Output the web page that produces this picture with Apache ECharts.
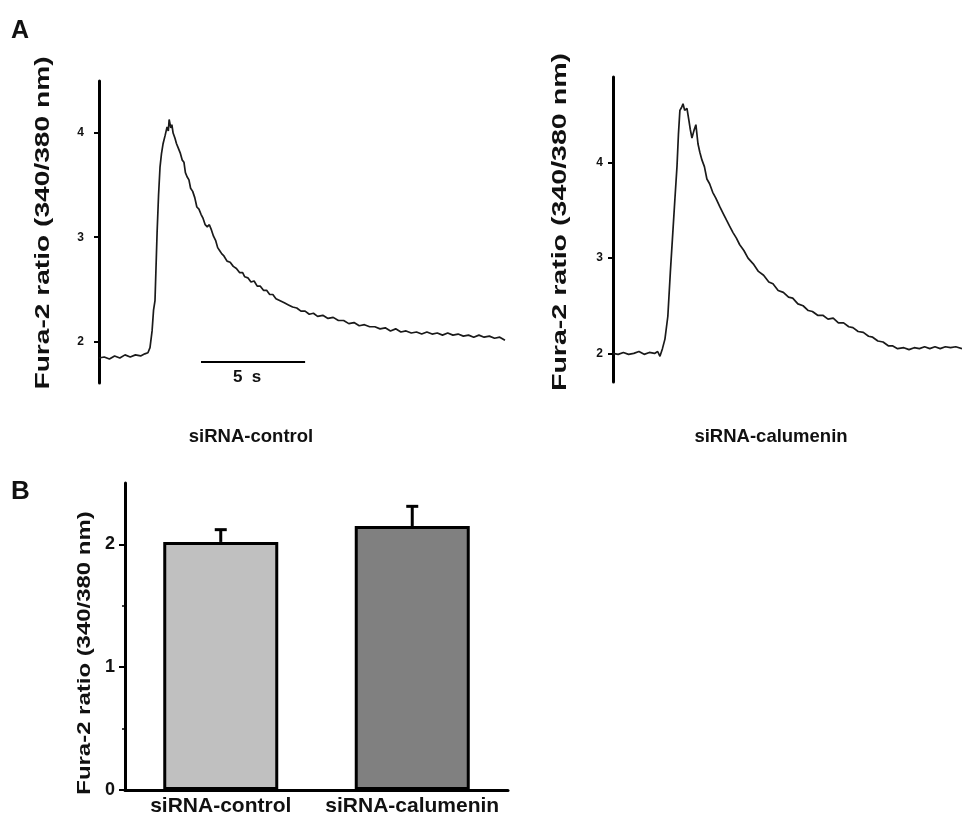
<!DOCTYPE html>
<html>
<head>
<meta charset="utf-8">
<script src="https://cdn.jsdelivr.net/npm/echarts@6/dist/echarts.min.js"></script>
<style>
  html, body { margin: 0; padding: 0; background: #fff; }
  #chart { width: 962px; height: 817px; }
</style>
</head>
<body>
<div id="chart"></div>
<script>
// trace readings: [time (s), Fura-2 ratio]
const controlTrace = [
  [0, 1.84], [0.25, 1.85], [0.5, 1.83], [0.75, 1.86], [1, 1.84], [1.25, 1.87], [1.5, 1.85], [1.75, 1.87],
  [2, 1.86], [2.2, 1.88], [2.35, 1.89], [2.45, 1.94], [2.55, 2.1], [2.62, 2.3], [2.69, 2.39], [2.79, 3.04],
  [2.86, 3.4], [2.93, 3.67], [3.0, 3.8], [3.08, 3.9], [3.18, 3.98], [3.27, 4.06], [3.33, 4.02], [3.37, 4.13],
  [3.45, 4.05], [3.5, 4.08], [3.56, 4.0], [3.65, 3.95], [3.72, 3.9], [3.8, 3.86], [3.9, 3.81], [4.0, 3.74],
  [4.08, 3.72], [4.15, 3.62], [4.23, 3.58], [4.32, 3.55], [4.4, 3.47], [4.5, 3.44], [4.6, 3.38], [4.7, 3.29],
  [4.8, 3.27], [4.9, 3.22], [5.0, 3.18], [5.1, 3.12], [5.2, 3.1], [5.3, 3.12], [5.4, 3.07], [5.5, 3.01],
  [5.6, 2.97], [5.7, 2.9], [5.8, 2.87], [5.9, 2.84], [6.0, 2.82], [6.15, 2.77], [6.3, 2.76], [6.45, 2.72],
  [6.6, 2.7], [6.75, 2.66], [6.9, 2.66], [7.0, 2.62], [7.15, 2.61], [7.3, 2.57], [7.45, 2.58], [7.6, 2.53],
  [7.75, 2.53], [7.9, 2.49], [8.05, 2.49], [8.2, 2.45], [8.35, 2.45], [8.5, 2.41], [8.7, 2.39], [8.9, 2.37],
  [9.1, 2.35], [9.3, 2.33], [9.5, 2.32], [9.7, 2.29], [9.9, 2.29], [10.1, 2.26], [10.3, 2.27], [10.5, 2.24],
  [10.75, 2.25], [11, 2.22], [11.25, 2.23], [11.5, 2.2], [11.75, 2.2], [12, 2.17], [12.25, 2.18], [12.5, 2.15],
  [12.75, 2.16], [13, 2.14], [13.25, 2.14], [13.5, 2.12], [13.75, 2.13], [14, 2.1], [14.25, 2.12], [14.5, 2.09],
  [14.75, 2.1], [15, 2.08], [15.25, 2.09], [15.5, 2.07], [15.75, 2.09], [16, 2.07], [16.25, 2.08], [16.5, 2.06],
  [16.75, 2.08], [17, 2.06], [17.25, 2.07], [17.5, 2.05], [17.75, 2.06], [18, 2.04], [18.25, 2.06], [18.5, 2.04],
  [18.75, 2.05], [19, 2.03], [19.25, 2.04], [19.5, 2.01]
];

const calumeninTrace = [
  [0, 2.0], [0.25, 1.99], [0.5, 2.01], [0.75, 1.99], [1, 2.0], [1.25, 2.02], [1.5, 1.99], [1.75, 2.01],
  [2.0, 2.0], [2.15, 2.02], [2.26, 1.97], [2.38, 2.05], [2.5, 2.15], [2.64, 2.39], [2.76, 2.85], [2.88, 3.27],
  [2.98, 3.62], [3.08, 3.96], [3.15, 4.3], [3.22, 4.55], [3.3, 4.58], [3.37, 4.62], [3.45, 4.55], [3.56, 4.57],
  [3.65, 4.45], [3.72, 4.35], [3.8, 4.26], [3.9, 4.34], [3.99, 4.4], [4.09, 4.2], [4.18, 4.11], [4.28, 4.03],
  [4.4, 3.96], [4.52, 3.83], [4.65, 3.78], [4.8, 3.69], [4.95, 3.63], [5.14, 3.54], [5.3, 3.47], [5.46, 3.4],
  [5.6, 3.34], [5.77, 3.27], [5.94, 3.21], [6.1, 3.14], [6.3, 3.08], [6.5, 3.0], [6.75, 2.94], [7.0, 2.86],
  [7.25, 2.82], [7.5, 2.75], [7.7, 2.73], [7.95, 2.66], [8.2, 2.64], [8.45, 2.59], [8.65, 2.58], [8.9, 2.52],
  [9.15, 2.5], [9.4, 2.45], [9.6, 2.44], [9.85, 2.4], [10.1, 2.4], [10.35, 2.36], [10.6, 2.37], [10.85, 2.32],
  [11.1, 2.32], [11.35, 2.28], [11.55, 2.27], [11.8, 2.23], [12.05, 2.22], [12.3, 2.18], [12.5, 2.17],
  [12.75, 2.13], [13.0, 2.12], [13.25, 2.08], [13.45, 2.08], [13.7, 2.05], [14.0, 2.06], [14.25, 2.04],
  [14.5, 2.06], [14.75, 2.05], [15.0, 2.07], [15.25, 2.05], [15.5, 2.07], [15.75, 2.05], [16.0, 2.07],
  [16.25, 2.06], [16.5, 2.07], [16.8, 2.05]
];

// scale bar: 5 s
const scaleBar = [[4.9, 1.8], [9.9, 1.8]];

const barCategories = ['siRNA-control', 'siRNA-calumenin'];
const barMeans = [2.02, 2.15];
const barErrors = [0.1, 0.16];
const barColors = ['#c0c0c0', '#808080'];

const axisName = 'Fura-2 ratio (340/380 nm)';
const font = '"Liberation Sans", Arial, sans-serif';

const chart = echarts.init(document.getElementById('chart'));

const traceYAxis = (grid, min, max, margin) => ({
  type: 'value',
  gridIndex: grid,
  min: min,
  max: max,
  axisLine: { show: true, lineStyle: { color: '#000', width: 3 } },
  axisTick: { show: true, customValues: [2, 3, 4], length: 5, lineStyle: { color: '#000', width: 2 } },
  axisLabel: { customValues: [2, 3, 4], fontFamily: font, fontSize: 12, fontWeight: 'bold', color: '#111', margin: margin },
  splitLine: { show: false }
});

// rotated, vertically stretched axis titles (the figure is stretched)
const axisTitle = (x, y, size, stretch) => ({
  type: 'text',
  x: x,
  y: y,
  rotation: Math.PI / 2,
  scaleX: stretch,
  style: { text: axisName, font: 'bold ' + size + 'px ' + font, fill: '#111', align: 'center', verticalAlign: 'middle' }
});

chart.setOption({
  animation: false,
  backgroundColor: '#fff',
  grid: [
    { left: 99, top: 81, width: 407, height: 302 },
    { left: 613, top: 77, width: 349, height: 305 },
    { left: 125, top: 483, width: 383, height: 307 }
  ],
  xAxis: [
    { type: 'value', gridIndex: 0, min: 0, max: 19.55, show: false },
    { type: 'value', gridIndex: 1, min: 0, max: 16.8, show: false },
    {
      type: 'category',
      gridIndex: 2,
      data: barCategories,
      axisLine: { lineStyle: { color: '#000', width: 3 } },
      axisTick: { show: false },
      axisLabel: { interval: 0, fontFamily: font, fontSize: 21, fontWeight: 'bold', color: '#111', margin: 6 }
    }
  ],
  yAxis: [
    traceYAxis(0, 1.6, 4.5, 15),
    traceYAxis(1, 1.7, 4.9, 10),
    {
      type: 'value',
      gridIndex: 2,
      min: 0,
      max: 2.5,
      interval: 1,
      axisLine: { show: true, lineStyle: { color: '#000', width: 3 } },
      axisTick: { show: true, customValues: [0, 1, 2], length: 6, lineStyle: { color: '#000', width: 2 } },
      minorTick: { show: true, splitNumber: 2, length: 3, lineStyle: { color: '#000', width: 1.5 } },
      axisLabel: { customValues: [0, 1, 2], fontFamily: font, fontSize: 18, fontWeight: 'bold', color: '#111', margin: 10 },
      splitLine: { show: false }
    }
  ],
  graphic: [
    { type: 'text', left: 11, top: 19, style: { text: 'A', font: 'bold 25px ' + font, fill: '#111' } },
    { type: 'text', left: 11, top: 479, style: { text: 'B', font: 'bold 26px ' + font, fill: '#111' } },
    { type: 'text', x: 251, y: 437, style: { text: 'siRNA-control', font: 'bold 18.5px ' + font, fill: '#111', align: 'center', verticalAlign: 'middle' } },
    { type: 'text', x: 771, y: 437, style: { text: 'siRNA-calumenin', font: 'bold 18.5px ' + font, fill: '#111', align: 'center', verticalAlign: 'middle' } },
    axisTitle(43, 223, 21, 1.34),
    axisTitle(560, 222, 21, 1.36),
    axisTitle(85, 653, 19, 1.26)
  ],
  series: [
    {
      type: 'line',
      xAxisIndex: 0,
      yAxisIndex: 0,
      data: controlTrace,
      symbol: 'none',
      lineStyle: { color: '#1a1a1a', width: 1.7 },
      markLine: {
        silent: true,
        symbol: 'none',
        lineStyle: { color: '#000', width: 2, type: 'solid' },
        label: {
          show: true,
          position: 'insideMiddleBottom',
          formatter: '5  s',
          fontFamily: font,
          fontSize: 17,
          fontWeight: 'bold',
          color: '#111',
          distance: 7,
          padding: [0, 12, 0, 0]
        },
        data: [[{ coord: scaleBar[0] }, { coord: scaleBar[1] }]]
      }
    },
    {
      type: 'line',
      xAxisIndex: 1,
      yAxisIndex: 1,
      data: calumeninTrace,
      symbol: 'none',
      lineStyle: { color: '#1a1a1a', width: 1.7 }
    },
    {
      type: 'bar',
      xAxisIndex: 2,
      yAxisIndex: 2,
      barWidth: 115,
      data: barMeans.map((v, i) => ({ value: v, itemStyle: { color: barColors[i] } })),
      itemStyle: { borderColor: '#000', borderWidth: 3 }
    },
    {
      type: 'custom',
      xAxisIndex: 2,
      yAxisIndex: 2,
      z: 1,
      data: barMeans.map((v, i) => [i, v, barErrors[i]]),
      renderItem: function (params, api) {
        const base = api.coord([api.value(0), api.value(1)]);
        const top = api.coord([api.value(0), api.value(1) + api.value(2)]);
        const style = { stroke: '#000', lineWidth: 3 };
        return {
          type: 'group',
          children: [
            { type: 'line', shape: { x1: base[0], y1: base[1], x2: top[0], y2: top[1] }, style: style },
            { type: 'line', shape: { x1: top[0] - 6, y1: top[1], x2: top[0] + 6, y2: top[1] }, style: style }
          ]
        };
      }
    }
  ]
});
</script>
</body>
</html>
